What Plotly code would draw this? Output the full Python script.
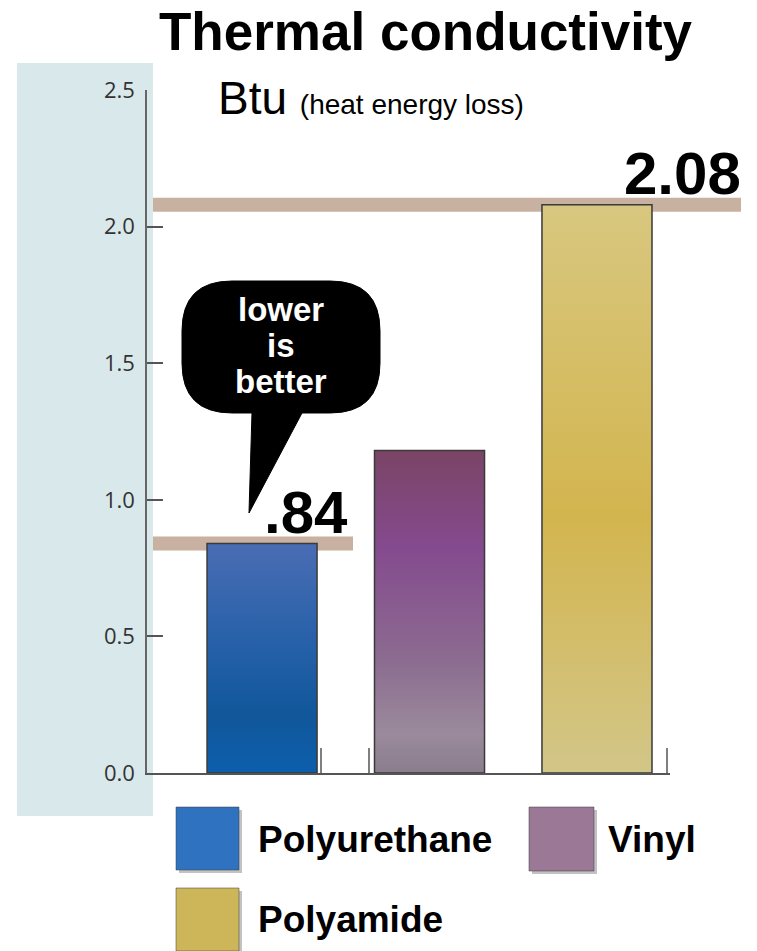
import base64
import plotly.graph_objects as go

# ---- data -------------------------------------------------------------
materials = ["Polyurethane", "Vinyl", "Polyamide"]
conductivity = [0.84, 1.18, 2.08]          # Btu (heat energy loss)
value_labels = [".84", None, "2.08"]        # values called out on the chart
y_ticks = [0.0, 0.5, 1.0, 1.5, 2.0, 2.5]
y_tick_text = ["0.0", "0.5", "1.0", "1.5", "2.0", "2.5"]
bubble_lines = ["lower", "is", "better"]

# vertical gradients for each bar (top -> bottom)
bar_gradients = [
    [(0.0, "#4a6db4"), (0.45, "#2560a8"), (0.75, "#11579a"), (1.0, "#0c5fad")],
    [(0.0, "#7a4566"), (0.3, "#844a8e"), (0.65, "#8c6c90"), (0.88, "#9a8a9c"), (1.0, "#8a7d8c")],
    [(0.0, "#d8c77f"), (0.55, "#d3b54f"), (1.0, "#d2c688")],
]
legend_colors = ["#2f72c0", "#9a7896", "#cdb65a"]

# ---- geometry helpers (pixel -> paper) --------------------------------
W, H = 757, 951
L, R, T, B = 147, 670, 90, 773


def px(x):
    return (x - L) / (R - L)


def py(y):
    return (B - y) / (B - T)


bar_width = 0.657
x_pos = list(range(len(materials)))

fig = go.Figure()
fig.add_trace(go.Bar(
    x=x_pos, y=conductivity, width=bar_width,
    marker=dict(color="rgba(0,0,0,0)", line=dict(color="#3a3a3a", width=1.5)),
    hovertext=materials, hoverinfo="text+y", showlegend=False,
))


def gradient_uri(stops):
    st = "".join(f"<stop offset='{o}' stop-color='{c}'/>" for o, c in stops)
    svg = ("<svg xmlns='http://www.w3.org/2000/svg' width='10' height='100' "
           "viewBox='0 0 10 100' preserveAspectRatio='none'><defs>"
           "<linearGradient id='g' x1='0' y1='0' x2='0' y2='1'>" + st +
           "</linearGradient></defs><rect width='10' height='100' fill='url(#g)'/></svg>")
    return "data:image/svg+xml;base64," + base64.b64encode(svg.encode()).decode()


images = []
for xi, val, stops in zip(x_pos, conductivity, bar_gradients):
    images.append(dict(
        source=gradient_uri(stops), xref="x", yref="y",
        x=xi - bar_width / 2, y=val, sizex=bar_width, sizey=val,
        xanchor="left", yanchor="top", sizing="stretch", layer="below",
    ))

shapes = []
# pale blue band behind the y axis labels
shapes.append(dict(type="rect", xref="paper", yref="paper", layer="below",
                   x0=px(17), x1=px(153), y0=py(816), y1=py(63),
                   fillcolor="#d9e8ea", line=dict(width=0)))
# reference lines at the called-out values
line_ends = [353, None, 741]
for val, end in zip(conductivity, line_ends):
    if end is None:
        continue
    shapes.append(dict(type="line", xref="paper", yref="y", layer="below",
                       x0=px(153), x1=px(end), y0=val, y1=val,
                       line=dict(color="#c8b1a0", width=14)))
# small upward ticks on the base line
for tx in (321, 369, 667):
    shapes.append(dict(type="line", xref="paper", yref="paper",
                       x0=px(tx), x1=px(tx), y0=0, y1=py(748),
                       line=dict(color="#555555", width=1.5)))

# speech bubble
bl, br, bt, bb, rad = 182, 380, 281, 413, 50
pts = [
    ("M", bl + rad, bt), ("L", br - rad, bt), ("Q", br, bt, br, bt + rad),
    ("L", br, bb - rad), ("Q", br, bb, br - rad, bb), ("L", 302, bb),
    ("L", 249, 513), ("L", 252, bb), ("L", bl + rad, bb),
    ("Q", bl, bb, bl, bb - rad), ("L", bl, bt + rad), ("Q", bl, bt, bl + rad, bt),
]
path = ""
for p in pts:
    cmd, coords = p[0], p[1:]
    xy = []
    for i in range(0, len(coords), 2):
        xy.append(f"{px(coords[i]):.5f},{py(coords[i + 1]):.5f}")
    path += cmd + " ".join(xy) + " "
path += "Z"
shapes.append(dict(type="path", xref="paper", yref="paper", path=path,
                   fillcolor="#000000", line=dict(color="#000000", width=1)))

# legend swatches
legend_boxes = [(176, 807, 239, 870), (529, 807, 594, 871), (176, 888, 239, 951)]
for (x0, y0, x1, y1), col in zip(legend_boxes, legend_colors):
    shapes.append(dict(type="rect", xref="paper", yref="paper",
                       x0=px(x0 + 3), x1=px(x1 + 3), y0=py(y1 + 3), y1=py(y0 + 3),
                       fillcolor="rgba(80,80,80,0.35)", line=dict(width=0)))
    shapes.append(dict(type="rect", xref="paper", yref="paper",
                       x0=px(x0), x1=px(x1), y0=py(y1), y1=py(y0),
                       fillcolor=col, line=dict(color="rgba(60,60,60,0.5)", width=1)))

FONT = "Liberation Sans, Arial, sans-serif"


def note(text, x, y, size, color="#000", xanchor="center", yanchor="middle"):
    return dict(text=text, x=px(x), y=py(y), xref="paper", yref="paper",
                xanchor=xanchor, yanchor=yanchor, showarrow=False,
                font=dict(family=FONT, size=size, color=color))


annotations = [
    note("<b>Thermal conductivity</b>", 426, 32, 53),
    note("Btu <span style='font-size:28px'>(heat energy loss)</span>", 216, 98, 46,
         xanchor="left"),
]
for line, ly in zip(bubble_lines, (309, 345, 381)):
    annotations.append(note(f"<b>{line}</b>", 281, ly, 33, color="#ffffff"))

label_pos = [350, None, 743]
for lbl, val, pos in zip(value_labels, conductivity, label_pos):
    if lbl is None:
        continue
    annotations.append(dict(text=f"<b>{lbl}</b>", x=px(pos), y=val, xref="paper", yref="y",
                            xanchor="right", yanchor="bottom", yshift=-4, showarrow=False,
                            font=dict(family=FONT, size=60, color="#000")))
legend_text_pos = [(256, 839), (606, 839), (256, 919)]
for name, (tx, ty) in zip(materials, legend_text_pos):
    annotations.append(note(f"<b>{name}</b>", tx, ty, 37, xanchor="left"))

fig.update_layout(
    width=W, height=H,
    margin=dict(l=L, r=W - R, t=T, b=H - B),
    paper_bgcolor="#ffffff", plot_bgcolor="rgba(0,0,0,0)",
    shapes=shapes, images=images, annotations=annotations,
    xaxis=dict(range=[-0.687, 2.436], showgrid=False, zeroline=False,
               showticklabels=False, ticks="", showline=True, linecolor="#555555",
               linewidth=1.5, fixedrange=True),
    yaxis=dict(range=[0, 2.5], tickvals=y_ticks, ticktext=y_tick_text,
               showgrid=False, zeroline=False, showline=True, linecolor="#666666",
               linewidth=1.5, ticks="inside", ticklen=16, tickcolor="#555555",
               tickwidth=1.5, ticklabelstandoff=6,
               tickfont=dict(family="Open Sans, sans-serif", size=22, color="#333333"),
               fixedrange=True),
    showlegend=False,
)

fig.write_html("out.html")
